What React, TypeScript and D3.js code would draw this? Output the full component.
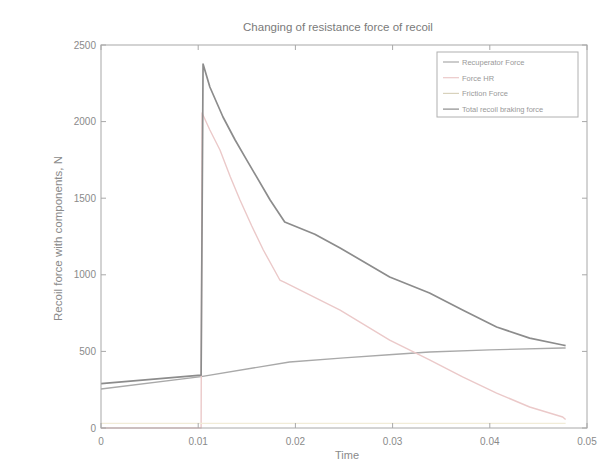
import * as d3 from "d3";
import React, { useRef, useEffect } from "react";

// time samples (s) and force values (N)
const recupT = [0, 0.0103, 0.0194, 0.025, 0.03, 0.0338, 0.04, 0.0475, 0.0478];
const recupF = [255, 335, 431, 458, 480, 496, 510, 522, 522];

const hrT = [0, 0.0103, 0.0104, 0.0112, 0.01224, 0.0133, 0.0143, 0.0155, 0.0167, 0.0184, 0.0189, 0.0246, 0.0297, 0.0338, 0.0372, 0.0407, 0.0441, 0.0475, 0.0478];
const hrF = [0, 0, 2056, 1945, 1815, 1640, 1488, 1320, 1162, 966, 950, 770, 574, 444, 333, 228, 137, 72, 55];

const frT = [0, 0.0478];
const frF = [30, 30];

const totT = [0, 0.0103, 0.0105, 0.0112, 0.01255, 0.0138, 0.015, 0.0174, 0.0189, 0.022, 0.0246, 0.0297, 0.0338, 0.0372, 0.0407, 0.0441, 0.0475, 0.0478];
const totF = [290, 345, 2376, 2226, 2030, 1880, 1749, 1488, 1345, 1265, 1175, 986, 881, 770, 659, 587, 542, 538];

const xTicks = [0, 0.01, 0.02, 0.03, 0.04, 0.05];
const yTicks = [0, 500, 1000, 1500, 2000, 2500];

const seriesNames = ["Recuperator Force", "Force HR", "Friction Force", "Total recoil braking force"];
const seriesColors = ["#a9a9a9", "#ebc9c9", "#f1ecd8", "#8c8c8c"];

function App() {
  const svgRef = useRef(null);

  useEffect(() => {
    const svg = d3.select(svgRef.current);
    svg.selectAll("*").remove();

    const W = 601, H = 461;
    const m = { left: 101, right: 14, top: 45, bottom: 33 };
    const font = "Liberation Sans, Arial, sans-serif";

    svg.append("rect").attr("width", W).attr("height", H).attr("fill", "#fff");

    const x = d3.scaleLinear().domain([0, 0.05]).range([m.left, W - m.right]);
    const y = d3.scaleLinear().domain([0, 2500]).range([H - m.bottom, m.top]);

    const axisCol = "#a8a8a8";
    const textCol = "#8a8a8a";

    const line = d3.line<number>().x((d) => x(d[0])).y((d) => y(d[1]));
    const all = [
      [recupT, recupF],
      [hrT, hrF],
      [frT, frF],
      [totT, totF],
    ];
    all.forEach(([ts, fs], i) => {
      const pts = ts.map((t, k) => [t, fs[k]]);
      svg
        .append("path")
        .attr("d", line(pts as any))
        .attr("fill", "none")
        .attr("stroke", seriesColors[i])
        .attr("stroke-width", i === 3 ? 1.7 : 1.4)
        .attr("stroke-linejoin", "round");
    });

    // box
    svg
      .append("rect")
      .attr("x", m.left)
      .attr("y", m.top)
      .attr("width", W - m.left - m.right)
      .attr("height", H - m.top - m.bottom)
      .attr("fill", "none")
      .attr("stroke", axisCol)
      .attr("stroke-width", 1);

    // ticks inside on all four sides
    const tk = 5;
    xTicks.forEach((t) => {
      svg.append("line").attr("x1", x(t)).attr("x2", x(t)).attr("y1", y(0)).attr("y2", y(0) - tk).attr("stroke", axisCol);
      svg.append("line").attr("x1", x(t)).attr("x2", x(t)).attr("y1", y(2500)).attr("y2", y(2500) + tk).attr("stroke", axisCol);
      svg
        .append("text")
        .attr("x", x(t))
        .attr("y", y(0) + 17)
        .attr("text-anchor", "middle")
        .attr("font-family", font)
        .attr("font-size", 10)
        .attr("fill", textCol)
        .text(String(t));
    });
    yTicks.forEach((v) => {
      svg.append("line").attr("x1", x(0)).attr("x2", x(0) + tk).attr("y1", y(v)).attr("y2", y(v)).attr("stroke", axisCol);
      svg.append("line").attr("x1", x(0.05)).attr("x2", x(0.05) - tk).attr("y1", y(v)).attr("y2", y(v)).attr("stroke", axisCol);
      svg
        .append("text")
        .attr("x", m.left - 5)
        .attr("y", y(v) + 3.5)
        .attr("text-anchor", "end")
        .attr("font-family", font)
        .attr("font-size", 10)
        .attr("fill", textCol)
        .text(String(v));
    });

    // title and axis labels
    svg
      .append("text")
      .attr("x", (m.left + W - m.right) / 2 - 6)
      .attr("y", 31)
      .attr("text-anchor", "middle")
      .attr("font-family", font)
      .attr("font-size", 11.5)
      .attr("fill", "#7a7a7a")
      .text("Changing of resistance force of recoil");
    svg
      .append("text")
      .attr("x", (m.left + W - m.right) / 2 + 3)
      .attr("y", 459)
      .attr("text-anchor", "middle")
      .attr("font-family", font)
      .attr("font-size", 11)
      .attr("fill", textCol)
      .text("Time");
    svg
      .append("text")
      .attr("transform", `translate(62, ${(m.top + H - m.bottom) / 2 + 2}) rotate(-90)`)
      .attr("text-anchor", "middle")
      .attr("font-family", font)
      .attr("font-size", 11.5)
      .attr("fill", textCol)
      .text("Recoil force with components, N");

    // legend
    const lg = svg.append("g").attr("transform", "translate(437, 52)");
    lg.append("rect").attr("width", 141).attr("height", 65).attr("fill", "#fff").attr("stroke", "#b0b0b0");
    seriesNames.forEach((name, i) => {
      const ly = 10 + i * 15.7;
      lg.append("line").attr("x1", 6).attr("x2", 22).attr("y1", ly).attr("y2", ly)
        .attr("stroke", i === 2 ? "#d8d2bc" : seriesColors[i]).attr("stroke-width", 1.2);
      lg.append("text").attr("x", 25).attr("y", ly + 3).attr("font-family", font)
        .attr("font-size", 7.5).attr("fill", "#999").text(name);
    });
  }, []);

  return (
    <div style={{ position: "absolute", left: 0, top: 0 }}>
      <svg ref={svgRef} width={601} height={461} style={{ display: "block" }} />
    </div>
  );
}

export default App;
